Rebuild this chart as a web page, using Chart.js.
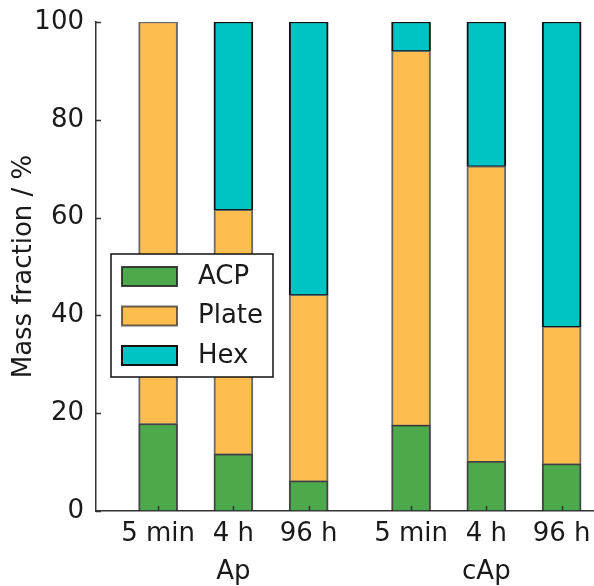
<!DOCTYPE html>
<html>
<head>
<meta charset="utf-8">
<script src="https://cdn.jsdelivr.net/npm/chart.js@4"></script>
<style>
  html, body { margin: 0; padding: 0; background: #fff; }
  #wrap { width: 594px; height: 586px; }
</style>
</head>
<body>
<div id="wrap"><canvas id="massChart" width="594" height="586"></canvas></div>
<script>
// sample names and where they sit on the x axis
const tickLabels = ['5 min', '4 h', '96 h', '5 min', '4 h', '96 h'];
const groupLabels = ['Ap', 'cAp'];
const xPos = [0, 1, 2, 3.36, 4.36, 5.36];

// mass fractions (%)
const acp = [17.8, 11.6, 6.1, 17.5, 10.1, 9.6];
const plate = [82.2, 50.0, 38.1, 76.6, 60.4, 28.1];
const hex = [0, 38.4, 55.8, 5.9, 29.5, 62.3];

const FONT = 'DejaVu Sans';
const TEXT = '#1a1a1a';

function toPoints(values) {
    return values.map((v, i) => ({ x: xPos[i], y: v }));
}

// ticks drawn on the inside of the axes
const innerTicks = {
    id: 'innerTicks',
    afterDatasetsDraw(chart) {
        const ctx = chart.ctx;
        const xs = chart.scales.x, ys = chart.scales.y;
        ctx.save();
        ctx.strokeStyle = '#333';
        ctx.lineWidth = 1.5;
        ctx.beginPath();
        ys.ticks.forEach(t => {
            const py = Math.round(ys.getPixelForValue(t.value)) + 0.5;
            ctx.moveTo(xs.left, py);
            ctx.lineTo(xs.left + 5, py);
        });
        xs.ticks.forEach(t => {
            const px = Math.round(xs.getPixelForValue(t.value)) + 0.5;
            ctx.moveTo(px, ys.bottom);
            ctx.lineTo(px, ys.bottom - 5);
        });
        ctx.stroke();
        ctx.restore();
    }
};

// boxed legend inside the plot
const boxLegend = {
    id: 'boxLegend',
    afterDraw(chart) {
        const ctx = chart.ctx;
        const area = chart.chartArea;
        const bx = area.left + 15, by = area.top + 232, bw = 162, bh = 123;
        ctx.save();
        ctx.fillStyle = '#fff';
        ctx.fillRect(bx, by, bw, bh);
        ctx.strokeStyle = '#111';
        ctx.lineWidth = 1.5;
        ctx.strokeRect(bx, by, bw, bh);
        ctx.font = '26px "' + FONT + '"';
        ctx.textBaseline = 'middle';
        chart.data.datasets.forEach((ds, i) => {
            const cy = by + 22 + i * 39.5;
            ctx.fillStyle = ds.backgroundColor;
            ctx.fillRect(bx + 11, cy - 9, 55, 19);
            ctx.strokeStyle = ds.borderColor;
            ctx.lineWidth = 2;
            ctx.strokeRect(bx + 11, cy - 9, 55, 19);
            ctx.fillStyle = TEXT;
            ctx.fillText(ds.label, bx + 87, cy + 1);
        });
        ctx.restore();
    }
};

const barBorder = { top: 1.5, bottom: 1, left: 2, right: 2 };

new Chart(document.getElementById('massChart'), {
    type: 'bar',
    data: {
        datasets: [
            { label: 'ACP', data: toPoints(acp), backgroundColor: '#4caa4c', borderColor: 'rgba(35,35,35,0.85)' },
            { label: 'Plate', data: toPoints(plate), backgroundColor: '#fdbd4f', borderColor: 'rgba(40,40,40,0.7)' },
            { label: 'Hex', data: toPoints(hex), backgroundColor: '#00c4c4', borderColor: '#111' }
        ].map(ds => Object.assign(ds, {
            borderWidth: barBorder,
            borderSkipped: false,
            barThickness: 39
        }))
    },
    options: {
        responsive: false,
        animation: false,
        layout: { padding: { top: 22, right: 0, left: 0, bottom: 0 } },
        plugins: {
            legend: { display: false },
            tooltip: { enabled: false }
        },
        scales: {
            x: {
                type: 'linear',
                stacked: true,
                offset: false,
                min: -0.825,
                max: 5.79,
                grid: { display: false, offset: false },
                border: { display: true, color: '#333', width: 1.5 },
                afterBuildTicks(scale) {
                    scale.ticks = xPos.map(v => ({ value: v }));
                },
                afterFit(scale) { scale.height = 75; },
                ticks: {
                    autoSkip: false,
                    maxRotation: 0,
                    padding: -4,
                    color: TEXT,
                    font: { family: FONT, size: 26, lineHeight: 1.46 },
                    callback(value, index) {
                        const lbl = tickLabels[index];
                        return index % 3 === 1 ? [lbl, groupLabels[Math.floor(index / 3)]] : lbl;
                    }
                }
            },
            y: {
                stacked: true,
                min: 0,
                max: 100,
                grid: { display: false },
                border: { display: true, color: '#333', width: 1.5 },
                afterFit(scale) { scale.width = 96; },
                ticks: {
                    stepSize: 20,
                    padding: 4,
                    color: TEXT,
                    font: { family: FONT, size: 26 }
                },
                title: {
                    display: true,
                    text: 'Mass fraction / %',
                    color: TEXT,
                    padding: { top: 9, bottom: 0 },
                    font: { family: FONT, size: 26 }
                }
            }
        }
    },
    plugins: [innerTicks, boxLegend]
});
</script>
</body>
</html>
